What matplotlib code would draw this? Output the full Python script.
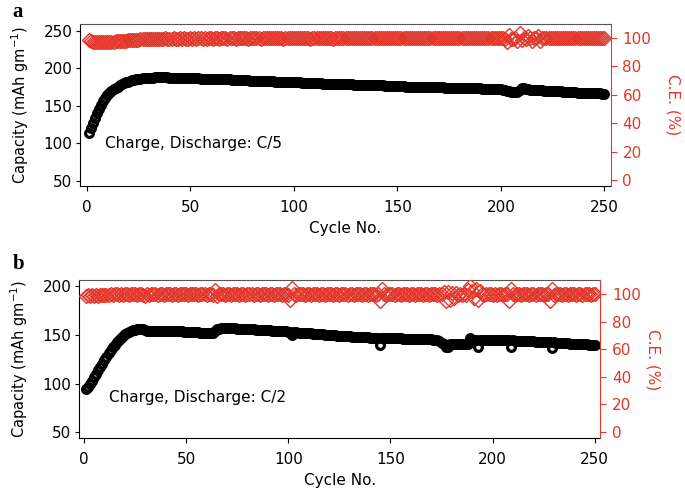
import numpy as np
import matplotlib.pyplot as plt

RED = "#e2372b"

plt.rcParams["font.family"] = ["DejaVu Sans"]
plt.rcParams["mathtext.default"] = "regular"

cycles = np.arange(1, 251)

# panel a: C/5, discharge capacity (mAh/g) per cycle
cap_a = [
    113, 120, 127, 134, 140, 146, 151, 156, 160, 164,
    167, 170, 172, 174, 175.5, 177, 178.5, 180, 181, 182,
    183, 184, 184.5, 185, 185.5, 186, 186.5, 187, 187, 187.5,
    187.5, 187.5, 188, 188, 188, 188, 188, 188, 188, 187.5,
    187.5, 187.5, 187.5, 187.5, 187, 187, 187, 187, 187, 187,
    186.5, 186.5, 186.5, 186.5, 186, 186, 186, 186, 186, 185.5,
    185.5, 185.5, 185.5, 185.5, 185, 185, 185, 185, 185, 184.5,
    184.5, 184.5, 184.5, 184, 184, 184, 184, 184, 183.5, 183.5,
    183.5, 183.5, 183, 183, 183, 183, 182.5, 182.5, 182.5, 182.5,
    182, 182, 182, 182, 181.5, 181.5, 181.5, 181.5, 181, 181,
    181, 181, 181, 180.5, 180.5, 180.5, 180.5, 180.5, 180, 180,
    180, 180, 180, 179.5, 179.5, 179.5, 179.5, 179.5, 179, 179,
    179, 179, 179, 178.5, 178.5, 178.5, 178.5, 178.5, 178, 178,
    178, 178, 178, 177.5, 177.5, 177.5, 177.5, 177.5, 177, 177,
    177, 177, 177, 176.5, 176.5, 176.5, 176.5, 176.5, 176, 176,
    176, 176, 176, 175.5, 175.5, 175.5, 175.5, 175.5, 175.5, 175.5,
    175, 175, 175, 175, 175, 175, 174.5, 174.5, 174.5, 174.5,
    174.5, 174.5, 174, 174, 174, 174, 174, 174, 173.5, 173.5,
    173.5, 173.5, 173.5, 173.5, 173, 173, 173, 173, 173, 173,
    172.5, 172.5, 172.5, 172.5, 172.5, 172.5, 172, 172, 172, 172,
    171.5, 171, 170, 169, 168.5, 168, 168, 168.5, 170.5, 173.5,
    173, 172.5, 172, 171.5, 171.5, 171, 171, 170.5, 170.5, 170.5,
    170, 170, 170, 169.5, 169.5, 169.5, 169, 169, 169, 168.5,
    168.5, 168.5, 168, 168, 168, 168, 167.5, 167.5, 167.5, 167.5,
    167, 167, 167, 167, 166.5, 166.5, 166.5, 166.5, 166, 166,
]
ce_a = [
    98.6, 97.6, 97.2, 97.0, 96.9, 96.8, 96.8, 96.9, 97.0, 97.0,
    97.1, 97.2, 97.3, 97.4, 97.5, 97.6, 97.8, 97.9, 98.0, 98.2,
    98.3, 98.4, 98.5, 98.6, 98.7, 98.8, 98.9, 99.0, 99.0, 99.1,
    99.2, 99.0, 99.3, 99.1, 99.4, 99.2, 99.3, 99.5, 99.2, 99.4,
    99.3, 99.6, 99.2, 99.4, 99.5, 99.3, 99.6, 99.4, 99.2, 99.5,
    99.4, 99.6, 99.3, 99.5, 99.7, 99.4, 99.5, 99.3, 99.6, 99.5,
    99.4, 99.7, 99.5, 99.3, 99.6, 99.5, 99.8, 99.4, 99.6, 99.5,
    99.7, 99.4, 99.6, 99.5, 99.8, 99.5, 99.6, 99.4, 99.7, 99.6,
    99.5, 99.8, 99.6, 99.4, 99.7, 99.5, 99.6, 99.8, 99.5, 99.6,
    99.7, 99.5, 99.6, 99.8, 99.4, 99.6, 99.7, 99.5, 99.8, 99.6,
    99.5, 99.7, 99.6, 99.8, 99.5, 99.6, 99.7, 99.4, 99.6, 99.8,
    99.6, 99.5, 99.7, 99.6, 99.8, 99.5, 99.7, 99.6, 99.4, 99.7,
    99.6, 99.8, 99.5, 99.7, 99.6, 99.5, 99.8, 99.6, 99.7, 99.5,
    99.7, 99.6, 99.8, 99.5, 99.6, 99.7, 99.5, 99.8, 99.6, 99.7,
    99.5, 99.7, 99.6, 99.8, 99.6, 99.5, 99.7, 99.6, 99.8, 99.5,
    99.6, 99.7, 99.5, 99.8, 99.6, 99.7, 99.5, 99.6, 99.8, 99.6,
    99.7, 99.5, 99.6, 99.8, 99.6, 99.5, 99.7, 99.6, 99.8, 99.7,
    99.5, 99.6, 99.8, 99.6, 99.7, 99.5, 99.6, 99.7, 99.8, 99.6,
    99.5, 99.7, 99.6, 99.8, 99.6, 99.7, 99.5, 99.6, 99.8, 99.7,
    99.6, 99.5, 99.7, 99.6, 99.8, 99.6, 99.5, 99.7, 99.6, 99.8,
    99.6, 99.4, 97.2, 101.6, 99.3, 98.8, 99.9, 97.4, 103.4, 98.6,
    99.8, 99.2, 101.0, 99.5, 97.8, 99.6, 99.8, 101.2, 97.6, 99.7,
    99.6, 99.8, 99.5, 99.7, 99.6, 99.8, 99.5, 99.7, 99.6, 99.8,
    99.6, 99.7, 99.5, 99.8, 99.6, 99.7, 99.5, 99.8, 99.6, 99.7,
    99.5, 99.7, 99.6, 99.8, 99.6, 99.5, 99.7, 99.6, 99.8, 99.6,
]

# panel b: C/2
cap_b = [
    94, 96, 99.5, 103, 106.5, 110, 113.5, 117, 120.5, 124,
    127.5, 131, 134, 137, 140, 142.5, 145, 147, 149, 150.5,
    152, 153, 154, 154.5, 155, 155.5, 156, 156, 156, 155,
    153.5, 153.5, 153.5, 154, 154, 154, 154, 154, 154, 154,
    154, 154, 153.5, 153.5, 153.5, 153.5, 153.5, 153.5, 153, 153,
    153, 153, 153, 152.5, 152.5, 152.5, 152, 152, 152, 151.5,
    151.5, 151.5, 152, 154, 155.5, 156, 156.5, 157, 157, 157,
    156.5, 156.5, 156.5, 156.5, 156, 156, 156, 156, 156, 155.5,
    155.5, 155.5, 155.5, 155, 155, 155, 155, 154.5, 154.5, 154.5,
    154.5, 154, 154, 154, 154, 153.5, 153.5, 153.5, 153.5, 153,
    153, 150, 152.5, 152.5, 152, 152, 152, 152, 151.5, 151.5,
    151.5, 151, 151, 151, 150.5, 150.5, 150.5, 150, 150, 150,
    149.5, 149.5, 149.5, 149, 149, 149, 148.5, 148.5, 148.5, 148.5,
    148, 148, 148, 148, 147.5, 147.5, 147.5, 147.5, 147.5, 147,
    147, 147, 147, 147, 139.5, 147, 147, 147, 146.5, 146.5,
    146.5, 146.5, 146.5, 146.5, 146.5, 146, 146, 146, 146, 146,
    146, 146, 146, 146, 146, 145.5, 145.5, 145.5, 145.5, 145.5,
    145, 145, 145, 144, 142, 140.5, 137.5, 137.5, 140.5, 140.5,
    140.5, 140.5, 140.5, 140.5, 140.5, 141, 141, 141, 146.5, 145,
    145, 145, 137, 145, 145, 145, 145, 145, 145, 145,
    144.5, 144.5, 144.5, 144.5, 144.5, 144.5, 144.5, 144.5, 137, 144.5,
    144, 144, 144, 144, 144, 143.5, 143.5, 143.5, 143.5, 143.5,
    143, 143, 143, 143, 143, 142.5, 142.5, 142.5, 136, 142.5,
    142, 142, 142, 142, 141.5, 141.5, 141.5, 141, 141, 141,
    141, 140.5, 140.5, 140.5, 140.5, 140.5, 140, 140, 140, 140,
]
ce_b = [
    98.8, 99.2, 98.5, 99.6, 98.9, 99.4, 99.0, 99.5, 99.8, 99.3,
    99.7, 99.5, 100.2, 99.6, 99.9, 100.3, 99.7, 100.1, 99.8, 100.4,
    100.0, 99.7, 100.3, 99.9, 100.2, 99.8, 100.4, 100.0, 99.6, 98.8,
    100.2, 99.8, 100.3, 99.9, 100.1, 99.7, 100.4, 100.0, 99.8, 100.2,
    99.9, 100.3, 99.7, 100.1, 100.4, 99.8, 100.2, 99.9, 100.3, 100.0,
    99.7, 100.2, 99.9, 100.4, 100.0, 99.8, 100.3, 99.9, 100.1, 99.7,
    100.2, 100.0, 99.8, 103.2, 98.6, 100.1, 99.9, 100.3, 99.8, 100.2,
    100.0, 99.7, 100.3, 99.9, 100.2, 99.8, 100.4, 100.0, 99.7, 100.1,
    99.9, 100.3, 99.8, 100.2, 100.0, 99.7, 100.4, 99.9, 100.1, 99.8,
    100.2, 100.0, 99.7, 100.3, 99.9, 100.1, 99.8, 100.2, 100.0, 99.7,
    95.9, 104.4, 100.0, 99.8, 100.2, 99.9, 100.3, 99.7, 100.1, 100.0,
    99.8, 100.2, 99.9, 100.4, 99.7, 100.1, 100.0, 99.8, 100.3, 99.9,
    100.1, 99.7, 100.2, 100.0, 99.8, 100.3, 99.9, 100.1, 99.7, 100.2,
    100.0, 99.8, 100.3, 99.9, 100.1, 99.7, 100.4, 100.0, 99.8, 100.2,
    99.9, 100.3, 99.7, 100.1, 95.0, 104.2, 100.0, 99.8, 100.2, 99.9,
    100.3, 99.7, 100.1, 100.0, 99.8, 100.2, 99.9, 100.4, 99.7, 100.1,
    100.0, 99.8, 100.3, 99.9, 100.1, 99.7, 100.2, 100.0, 99.8, 100.3,
    99.9, 100.1, 99.7, 100.2, 100.0, 102.0, 95.2, 101.5, 96.0, 100.8,
    97.5, 101.0, 99.6, 100.2, 99.4, 100.6, 99.8, 103.5, 105.8, 102.2,
    97.0, 104.0, 95.8, 102.5, 100.0, 99.7, 100.2, 99.9, 100.3, 99.8,
    100.1, 99.7, 100.2, 100.0, 99.8, 100.3, 99.9, 95.4, 104.0, 100.1,
    99.7, 100.2, 100.0, 99.8, 100.3, 99.9, 100.1, 99.7, 100.2, 100.0,
    99.8, 100.3, 99.9, 100.1, 99.7, 100.2, 100.0, 95.5, 104.2, 99.8,
    100.3, 99.9, 100.1, 99.7, 100.2, 100.0, 99.8, 100.3, 99.9, 100.1,
    99.7, 100.2, 100.0, 99.8, 100.3, 99.9, 100.1, 99.7, 100.2, 100.0,
]


def draw_panel(fig, rect, cap, ce, xlim, cap_lim, cap_ticks, ce_lim, note, note_xy,
               ce_pad):
    ax = fig.add_axes(rect)
    ax2 = ax.twinx()

    ax.plot(cycles, cap, ls="none", marker="o", ms=5.6, mfc="none", mec="black", mew=2.3)
    ax2.plot(cycles, ce, ls="none", marker="D", ms=7, mfc="none", mec=RED, mew=1.0)

    ax.set_xlim(*xlim)
    ax.set_ylim(*cap_lim)
    ax.set_yticks(cap_ticks)
    ax.set_xticks([0, 50, 100, 150, 200, 250])
    ax2.set_ylim(*ce_lim)
    ax2.set_yticks([0, 20, 40, 60, 80, 100])

    ax.set_xlabel("Cycle No.", fontsize=11, labelpad=4)
    ax.set_ylabel("Capacity (mAh gm$^{-1}$)", fontsize=10.5, labelpad=9)
    ax2.set_ylabel("C.E. (%)", fontsize=11, color=RED, rotation=270, labelpad=ce_pad)
    ax.text(*note_xy, note, fontsize=11, va="center")

    ax.tick_params(axis="x", direction="out", length=3.6, width=0.8, labelsize=11, pad=6.5)
    ax.tick_params(axis="y", direction="out", length=3, width=0.8, labelsize=11, pad=2.5)
    ax2.tick_params(direction="out", length=4.5, width=0.8, labelsize=11, pad=4,
                    colors=RED)
    for name in ("left", "bottom", "top"):
        ax.spines[name].set_linewidth(0.8)
    ax.spines["top"].set_color("#555555")
    ax.spines["right"].set_visible(False)
    for name in ("left", "bottom", "top"):
        ax2.spines[name].set_visible(False)
    ax2.spines["right"].set_color(RED)
    ax2.spines["right"].set_linewidth(0.8)
    return ax, ax2


fig = plt.figure(figsize=(6.85, 4.92), dpi=100)

draw_panel(fig, [0.1168, 0.622, 0.7747, 0.3287], cap_a, ce_a,
           (-3.2, 253), (43, 258.5), [50, 100, 150, 200, 250], (-4, 109.4),
           "Charge, Discharge: C/5", (9, 100), 21)
draw_panel(fig, [0.1153, 0.1091, 0.761, 0.3217], cap_b, ce_b,
           (-2.45, 252.7), (43.9, 206.1), [50, 100, 150, 200], (-4.8, 110.4),
           "Charge, Discharge: C/2", (12, 86), 14)

fig.text(0.018, 0.996, "a", family="Liberation Serif", fontweight="bold",
         fontsize=15, va="top")
fig.text(0.018, 0.484, "b", family="Liberation Serif", fontweight="bold",
         fontsize=15, va="top")

fig.savefig("out.png", dpi=100)
